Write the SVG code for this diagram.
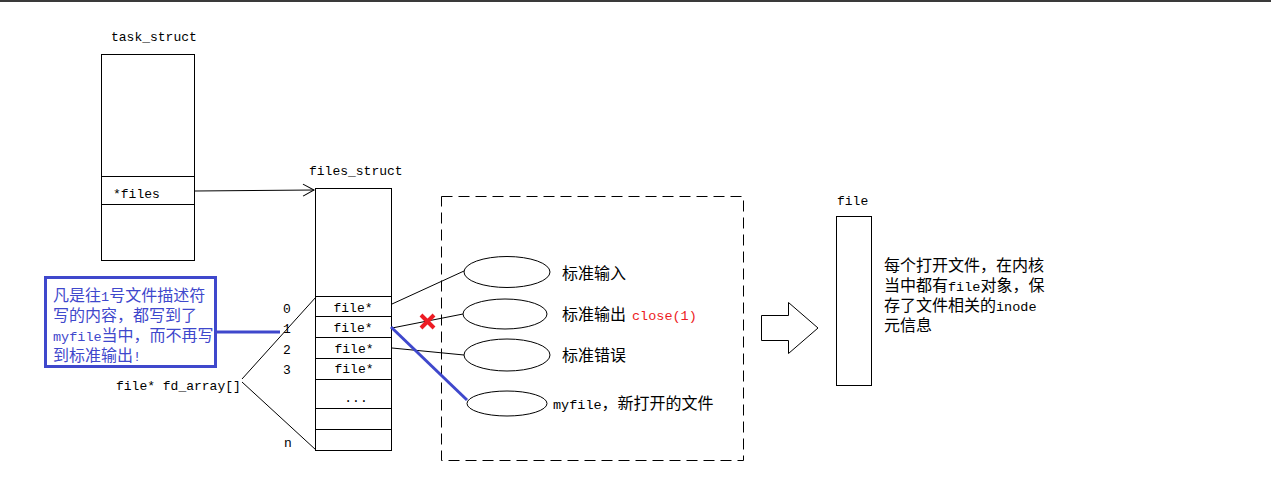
<svg xmlns="http://www.w3.org/2000/svg" width="1271" height="486" viewBox="0 0 1271 486">
<style>
.box{fill:#fff;stroke:#000;stroke-width:1}
.ln{fill:none;stroke:#000;stroke-width:1}
.mono{font-family:"Liberation Mono","DejaVu Sans Mono",monospace;font-size:13px;fill:#000}
.cjk{font-family:"Noto Sans CJK SC","Noto Sans CJK JP",sans-serif;font-size:16px;fill:#000}
.m{font-family:"Liberation Mono","DejaVu Sans Mono",monospace;font-size:13.5px}
.blue{fill:#3f48cc}
</style>
<defs>
<marker id="open" markerWidth="14" markerHeight="16" refX="12" refY="7" orient="auto" markerUnits="userSpaceOnUse">
<path d="M1,1 L12,7 L1,13" fill="none" stroke="#000" stroke-width="1"/>
</marker>
</defs>
<rect x="0" y="0" width="1271" height="486" fill="#fff"/>
<rect x="0" y="0" width="1271" height="2" fill="#3a3a3a"/>

<g id="task_struct">
<text class="mono" x="111" y="41">task_struct</text>
<rect class="box" x="101.5" y="54.5" width="93" height="206"/>
<line class="ln" x1="101" y1="176.5" x2="195" y2="176.5"/>
<line class="ln" x1="101" y1="204.5" x2="195" y2="204.5"/>
<text class="mono" x="113" y="198">*files</text>
</g>

<g id="files_struct">
<text class="mono" x="309" y="175">files_struct</text>
<rect class="box" x="315.5" y="188.5" width="76" height="262"/>
<line class="ln" x1="315" y1="296.5" x2="392" y2="296.5"/>
<line class="ln" x1="315" y1="316.5" x2="392" y2="316.5"/>
<line class="ln" x1="315" y1="337.5" x2="392" y2="337.5"/>
<line class="ln" x1="315" y1="358.5" x2="392" y2="358.5"/>
<line class="ln" x1="315" y1="379.5" x2="392" y2="379.5"/>
<line class="ln" x1="315" y1="408.5" x2="392" y2="408.5"/>
<line class="ln" x1="315" y1="429.5" x2="392" y2="429.5"/>
<text class="mono" x="353" y="312" text-anchor="middle">file*</text>
<text class="mono" x="353" y="332" text-anchor="middle">file*</text>
<text class="mono" x="354" y="353" text-anchor="middle">file*</text>
<text class="mono" x="354" y="373" text-anchor="middle">file*</text>
<text class="mono" x="356" y="402" text-anchor="middle">...</text>
<text class="mono" x="283" y="313">0</text>
<text class="mono" x="283" y="333">1</text>
<text class="mono" x="283" y="354">2</text>
<text class="mono" x="283" y="374">3</text>
<text class="mono" x="284" y="447">n</text>
<text class="mono" x="116" y="390">file* fd_array[]</text>
</g>

<g id="note">
<rect x="45.5" y="277.5" width="170" height="89" fill="#fff" stroke="#3f48cc" stroke-width="3"/>
<text class="cjk blue" x="53" y="301">凡是往<tspan class="m">1</tspan>号文件描述符</text>
<text class="cjk blue" x="53" y="321">写的内容，都写到了</text>
<text class="cjk blue" x="53" y="341"><tspan class="m">myfile</tspan>当中，而不再写</text>
<text class="cjk blue" x="53" y="361">到标准输出<tspan class="m">!</tspan></text>
</g>

<g id="open_files">
<rect x="441.5" y="196.5" width="302" height="264" fill="none" stroke="#000" stroke-width="1" stroke-dasharray="11,6"/>
<ellipse class="box" cx="507" cy="272" rx="43" ry="15.5"/>
<ellipse class="box" cx="505" cy="314" rx="42" ry="15"/>
<ellipse class="box" cx="507" cy="355" rx="43" ry="16"/>
<ellipse class="box" cx="507" cy="403.5" rx="40" ry="12.5"/>
<text class="cjk" x="562" y="279">标准输入</text>
<text class="cjk" x="562" y="320">标准输出<tspan class="m" fill="#ed1c24" x="632">close(1)</tspan></text>
<text class="cjk" x="562" y="361">标准错误</text>
<text class="cjk" x="553" y="409"><tspan class="m">myfile</tspan>，新打开的文件</text>
</g>

<g id="file_obj">
<text class="mono" x="837" y="205">file</text>
<rect class="box" x="836.5" y="216.5" width="35" height="169"/>
<text class="cjk" x="884" y="271">每个打开文件，在内核</text>
<text class="cjk" x="884" y="291">当中都有<tspan class="m">file</tspan>对象，保</text>
<text class="cjk" x="884" y="311">存了文件相关的<tspan class="m">inode</tspan></text>
<text class="cjk" x="884" y="331">元信息</text>
<path d="M761.5,315.5 H788.5 V302.5 L818,328 L788.5,353.5 V340.5 H761.5 Z" fill="#fff" stroke="#000" stroke-width="1"/>
</g>

<g id="connectors">
<line class="ln" x1="195" y1="191" x2="314" y2="190" marker-end="url(#open)"/>
<line class="ln" x1="242" y1="379" x2="316" y2="297"/>
<line class="ln" x1="242" y1="382" x2="316" y2="450"/>
<line x1="217" y1="332" x2="280" y2="332" stroke="#3f48cc" stroke-width="3"/>
<line class="ln" x1="392" y1="304" x2="464" y2="271"/>
<line class="ln" x1="392" y1="328" x2="463" y2="314"/>
<line class="ln" x1="392" y1="348" x2="464" y2="355"/>
<line x1="391" y1="327" x2="467" y2="400" stroke="#3f48cc" stroke-width="3"/>
<path d="M421,315 L434,328 M434,315 L421,328" stroke="#ed1c24" stroke-width="4" fill="none"/>
</g>
</svg>
